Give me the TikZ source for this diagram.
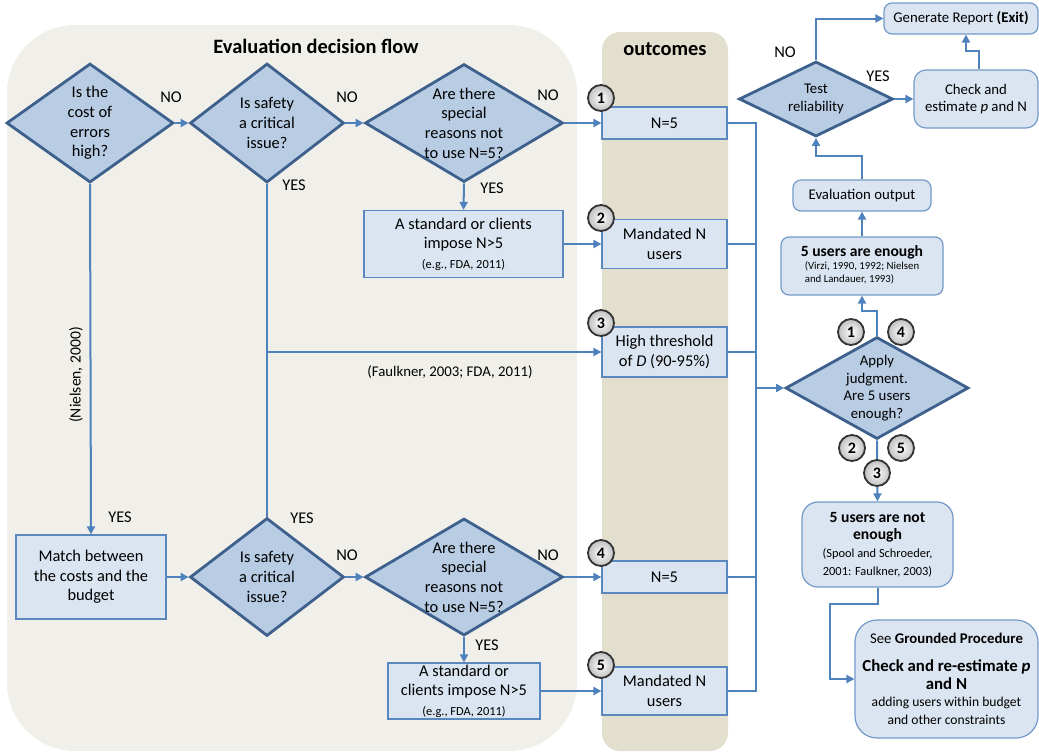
\documentclass[tikz,border=0pt]{standalone}
\usepackage{fontspec}
\setmainfont{Carlito}
\usetikzlibrary{shapes.geometric,arrows.meta}

\definecolor{flowblue}{RGB}{79,129,189}
\definecolor{decfill}{RGB}{184,204,228}
\definecolor{decline}{RGB}{62,96,140}
\definecolor{boxfill}{RGB}{219,229,241}
\definecolor{boxline}{RGB}{90,135,190}
\definecolor{panelgray}{RGB}{240,239,233}
\definecolor{outtan}{RGB}{226,223,206}

\newcommand\txtmain{\fontsize{8.2}{9.8}\selectfont}
\newcommand\txtright{\fontsize{7.4}{8.8}\selectfont}
\newcommand\txtsmall{\fontsize{6.2}{7}\selectfont}
\newcommand\txttiny{\fontsize{5.4}{6.4}\selectfont}
\newcommand\txtcite{\fontsize{7.4}{8.6}\selectfont}
\newcommand\txttitle{\fontsize{10.2}{12}\selectfont\bfseries}

\tikzset{
  flow/.style={draw=flowblue, line width=1pt, -{Triangle[length=4pt,width=4pt]}},
  flowline/.style={draw=flowblue, line width=1pt},
  decision/.style={diamond, draw=decline, line width=1.4pt, fill=decfill, inner sep=0pt},
  qtext/.style={align=center, font=\txtmain},
  rtext/.style={align=center, font=\txtright},
  actbox/.style={rectangle, draw=boxline, line width=0.6pt, fill=boxfill, inner sep=0pt, align=center, font=\txtmain},
  outbox/.style={actbox, minimum width=62.5pt},
  resbox/.style={rectangle, rounded corners=4pt, draw=boxline!85, line width=0.6pt, fill=boxfill, inner sep=0pt, align=center, font=\txtright},
  answer/.style={font=\txtmain, inner sep=1pt},
  badge/.style={circle, draw=black!80, line width=0.9pt, inner sep=0pt, minimum size=13pt, inner color=white, outer color=black!25, font=\fontsize{8}{8}\selectfont\bfseries},
}

\begin{document}
\begin{tikzpicture}[x=0.5pt, y=-0.5pt]
\useasboundingbox (0,0) rectangle (1039,751);

% background panels
\fill[panelgray, rounded corners=34pt] (7,25) rectangle (577,751);
\fill[outtan, rounded corners=9pt] (602,32) rectangle (728,751);
\node[font=\txttitle] (flowtitle) at (316,46) {Evaluation decision flow};
\node[font=\txttitle] (outtitle) at (665,49) {outcomes};

% upper decision row
\node[decision, minimum width=83.5pt, minimum height=59.5pt, label={[qtext]center:Is the\\cost of\\errors\\high?}] (costq) at (90,123) {};
\node[decision, minimum width=77pt, minimum height=59.5pt, label={[qtext]center:Is safety\\a critical\\issue?}] (safeq1) at (267,123) {};
\node[decision, minimum width=99pt, minimum height=59pt, label={[qtext]center:Are there\\special\\reasons not\\to use N=5?}] (reasonq1) at (464,123) {};
\node[actbox, minimum width=99.5pt, minimum height=33.5pt] (imposeA) at (463.5,244) {A standard or clients\\impose N>5\\{\txtsmall (e.g., FDA, 2011)}};

% lower decision row
\node[actbox, minimum width=75pt, minimum height=42pt] (matchb) at (91,577) {Match between\\the costs and the\\budget};
\node[decision, minimum width=77pt, minimum height=59pt, label={[qtext]center:Is safety\\a critical\\issue?}] (safeq2) at (267,577) {};
\node[decision, minimum width=99pt, minimum height=58.5pt, label={[qtext]center:Are there\\special\\reasons not\\to use N=5?}] (reasonq2) at (464,577) {};
\node[actbox, minimum width=76pt, minimum height=28pt] (imposeB) at (464,691) {A standard or\\clients impose N>5\\{\txtsmall (e.g., FDA, 2011)}};

% outcomes
\node[outbox, minimum height=16pt] (out1) at (664.5,123) {N=5};
\node[outbox, minimum height=24.5pt] (out2) at (664.5,244) {Mandated N\\users};
\node[outbox, minimum height=25pt] (out3) at (664.5,352) {High threshold\\of \textit{D} (90-95\%)};
\node[outbox, minimum height=16pt] (out4) at (664.5,577) {N=5};
\node[outbox, minimum height=24pt] (out5) at (664.5,691) {Mandated N\\users};

% judgment side
\node[decision, minimum width=91.5pt, minimum height=51pt, label={[rtext]center:Apply\\judgment.\\Are 5 users\\enough?}] (applyq) at (877,388) {};
\node[resbox, minimum width=81pt, minimum height=29pt] (enoughb) at (862,266) {{\fontsize{7.8}{9}\selectfont\bfseries 5 users are enough}\\{\txttiny\begin{tabular}{@{}l@{}}(Virzi, 1990, 1992; Nielsen\\and Landauer, 1993)\end{tabular}}};
\node[resbox, minimum width=69pt, minimum height=15.5pt] (evalout) at (862,195.5) {Evaluation output};
\node[decision, minimum width=77pt, minimum height=37.5pt, label={[rtext]center:Test\\reliability}] (testq) at (816,99) {};
\node[resbox, rounded corners=6pt, minimum width=62pt, minimum height=29pt] (checkb) at (976,99) {Check and\\estimate \textit{p} and N};
\node[resbox, minimum width=77pt, minimum height=15.5pt] (genb) at (961,18.5) {Generate Report \textbf{(Exit)}};
\node[resbox, rounded corners=8pt, minimum width=75.5pt, minimum height=42.5pt] (notenb) at (877.5,544.5) {{\fontsize{7.8}{9}\selectfont\bfseries 5 users are not}\\{\fontsize{7.8}{9}\selectfont\bfseries enough}\\{\txtsmall (Spool and Schroeder,}\\{\txtsmall 2001: Faulkner, 2003)}};
\node[resbox, rounded corners=11pt, minimum width=91.5pt, minimum height=59pt] (groundb) at (946.5,679) {See \textbf{Grounded Procedure}\\[5pt]{\fontsize{8.4}{9.4}\selectfont\bfseries Check and re-estimate \textit{p}}\\{\fontsize{8.4}{9.4}\selectfont\bfseries and N}\\{\fontsize{6.8}{7.8}\selectfont adding users within budget}\\{\fontsize{6.8}{7.8}\selectfont and other constraints}};

% connectors, left side
\draw[flow] (costq.east) -- (safeq1.west);
\draw[flow] (safeq1.east) -- (reasonq1.west);
\draw[flow] (reasonq1.east) -- (out1.west);
\draw[flow] (reasonq1.south) -- (imposeA.north);
\draw[flow] (imposeA.east) -- (out2.west);
\draw[flow] (costq.south) -- (matchb.north);
\draw[flowline] (safeq1.south) -- (safeq2.north);
\coordinate (yesjoin) at (safeq1.south |- out3.west);
\draw[flow] (yesjoin) -- (out3.west);
\draw[flow] (matchb.east) -- (safeq2.west);
\draw[flow] (safeq2.east) -- (reasonq2.west);
\draw[flow] (reasonq2.east) -- (out4.west);
\draw[flow] (reasonq2.south) -- (imposeB.north);
\draw[flow] (imposeB.east) -- (out5.west);

% collector into the judgment
\coordinate (busx) at (756,0);
\draw[flowline] (out1.east) -| (busx |- out5.east) -- (out5.east);
\draw[flowline] (out2.east) -- (busx |- out2.east);
\draw[flowline] (out3.east) -- (busx |- out3.east);
\draw[flowline] (out4.east) -- (busx |- out4.east);
\draw[flow] (busx |- applyq.west) -- (applyq.west);

% connectors, right side
\draw[flow] (applyq.north) -- ++(0,-25) -| (enoughb.south);
\draw[flow] (enoughb.north) -- (evalout.south);
\draw[flow] (evalout.north) -- ++(0,-23) -| (testq.south);
\draw[flow] (testq.east) -- (checkb.west);
\draw[flow] (testq.north) |- (genb.west);
\draw[flow] ([xshift=1.5pt]checkb.north) -- ++(0,-18) -| ([xshift=2.5pt]genb.south);
\draw[flow] (applyq.south) -- (notenb.north);
\draw[flow] (notenb.south) -- ++(0,16) -- ++(-48,0) |- (groundb.west);

% answers and references
\node[answer] (no1) at (171,97) {NO};
\node[answer] (no2) at (347,97) {NO};
\node[answer] (no3) at (548,95) {NO};
\node[answer] (yes1) at (294,185) {YES};
\node[answer] (yes2) at (492,188) {YES};
\node[answer] (yes3) at (120,517) {YES};
\node[answer] (yes4) at (302,518) {YES};
\node[answer] (no4) at (347,555) {NO};
\node[answer] (no5) at (548,555) {NO};
\node[answer] (yes5) at (487,645) {YES};
\node[answer] (no6) at (785,52) {NO};
\node[answer] (yes6) at (878,76) {YES};
\node[font=\txtcite] (faulknerlbl) at (450,372) {(Faulkner, 2003; FDA, 2011)};
\node[font=\fontsize{7.8}{9}\selectfont, rotate=90] (nielsenlbl) at (76,375) {(Nielsen, 2000)};

% numbered badges
\node[badge] (badge1) at (601,98) {1};
\node[badge] (badge2) at (601,218) {2};
\node[badge] (badge3) at (601,323) {3};
\node[badge] (badge4) at (601,553) {4};
\node[badge] (badge5) at (601,665) {5};
\node[badge] (judge1) at (851,332) {1};
\node[badge] (judge4) at (901,332) {4};
\node[badge] (judge2) at (852,448) {2};
\node[badge] (judge5) at (901,448) {5};
\node[badge] (judge3) at (877,473) {3};

\end{tikzpicture}
\end{document}
